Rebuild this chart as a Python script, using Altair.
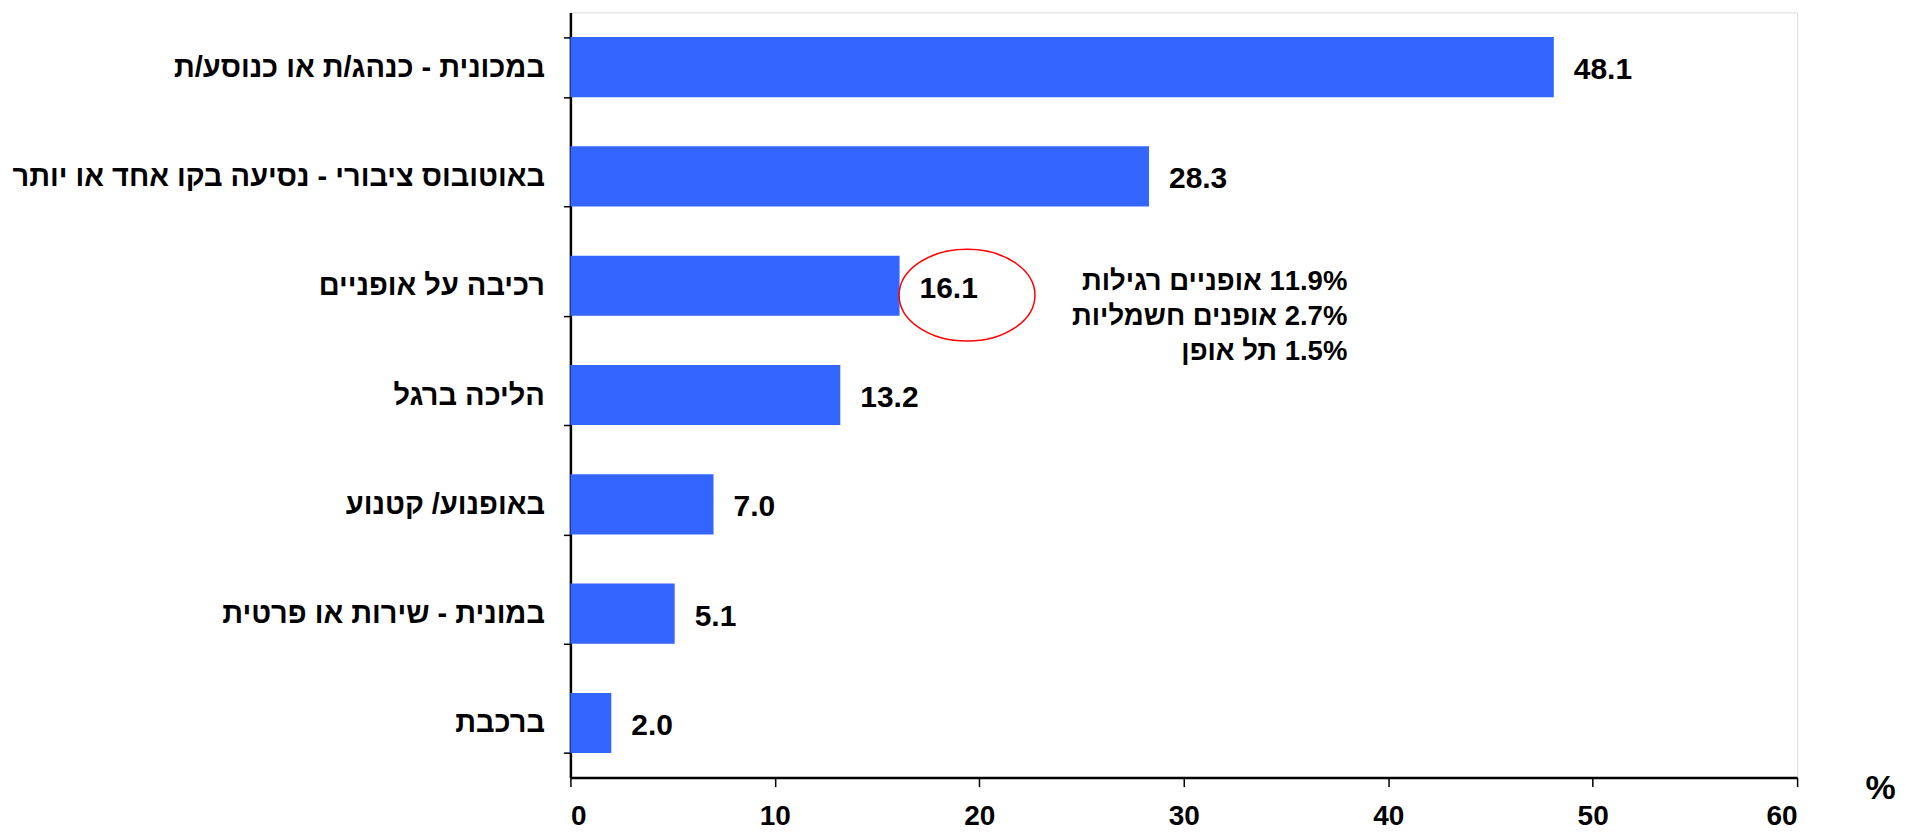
import altair as alt
import pandas as pd

categories = [
    "במכונית - כנהג/ת או כנוסע/ת",
    "באוטובוס ציבורי - נסיעה בקו אחד או יותר",
    "רכיבה על אופניים",
    "הליכה ברגל",
    "באופנוע/ קטנוע",
    "במונית - שירות או פרטית",
    "ברכבת",
]
values = [48.1, 28.3, 16.1, 13.2, 7.0, 5.1, 2.0]
x_ticks = [0, 10, 20, 30, 40, 50, 60]

RLM = "\u200f"
note_lines = [
    RLM + "11.9% אופניים רגילות",
    RLM + "2.7% אופנים חשמליות",
    RLM + "1.5% תל אופן",
]
note_category = "רכיבה על אופניים"
note_x = 38.0
circle_x = 19.4

FONT = "Liberation Sans"
BLUE = "#3366FF"

df = pd.DataFrame({"cat": categories, "val": values})
df["lbl"] = [f"{v:.1f}" for v in values]

x_scale = alt.Scale(domain=[0, 60], nice=False, zero=True)
y_scale = alt.Scale(domain=categories, paddingInner=0.45, paddingOuter=0.225)

x_axis = alt.Axis(
    values=x_ticks, grid=False, title="%",
    labelFont=FONT, labelFontSize=28, labelFontWeight="bold", labelColor="black",
    labelPadding=16, tickSize=9, tickColor="black", tickWidth=1.5,
    domainColor="black", domainWidth=2.5,
    titleFont=FONT, titleFontSize=34, titleFontWeight="bold", titleColor="black",
    titleX=1311, titleY=11, titleAlign="center", titleBaseline="middle", titleAngle=0,
)
y_axis = alt.Axis(
    title=None, grid=False, tickBand="extent",
    labelFont=FONT, labelFontSize=29, labelFontWeight="bold", labelColor="black",
    labelPadding=19, labelLimit=0, tickSize=7, tickColor="black", tickWidth=1.5,
    domainColor="black", domainWidth=2.5,
)

base = alt.Chart(df)
bars = base.mark_bar(color=BLUE).encode(
    x=alt.X("val:Q", scale=x_scale, axis=x_axis),
    y=alt.Y("cat:N", scale=y_scale, axis=y_axis, sort=None),
)
labels = base.mark_text(
    align="left", baseline="middle", dx=20, dy=3,
    font=FONT, fontSize=30, fontWeight="bold", color="black",
).encode(
    x=alt.X("val:Q", scale=x_scale),
    y=alt.Y("cat:N", scale=y_scale, sort=None),
    text="lbl:N",
)

note_df = pd.DataFrame({"cat": [note_category], "x": [note_x], "cx": [circle_x]})
note = alt.Chart(note_df).mark_text(
    text=note_lines, align="right", baseline="alphabetic", yOffset=4, lineHeight=35,
    font=FONT, fontSize=27.5, fontWeight="bold", color="black",
).encode(
    x=alt.X("x:Q", scale=x_scale),
    y=alt.Y("cat:N", scale=y_scale, sort=None),
)
ellipse = alt.Chart(note_df).mark_point(
    shape="M-1,0A1,0.676,0,1,0,1,0A1,0.676,0,1,0,-1,0Z",
    size=136 * 136, filled=False, stroke="red", strokeWidth=1.5, opacity=1, yOffset=9.5,
).encode(
    x=alt.X("cx:Q", scale=x_scale),
    y=alt.Y("cat:N", scale=y_scale, sort=None),
)

chart = alt.layer(bars, labels, ellipse, note).properties(
    width=1228, height=766,
    autosize=alt.AutoSizeParams(type="none"),
    padding={"left": 563, "top": 4, "right": 110, "bottom": 52},
).configure_view(stroke=None).configure(background="white")

chart.save("out.html", embed_options={"renderer": "svg", "actions": False})
